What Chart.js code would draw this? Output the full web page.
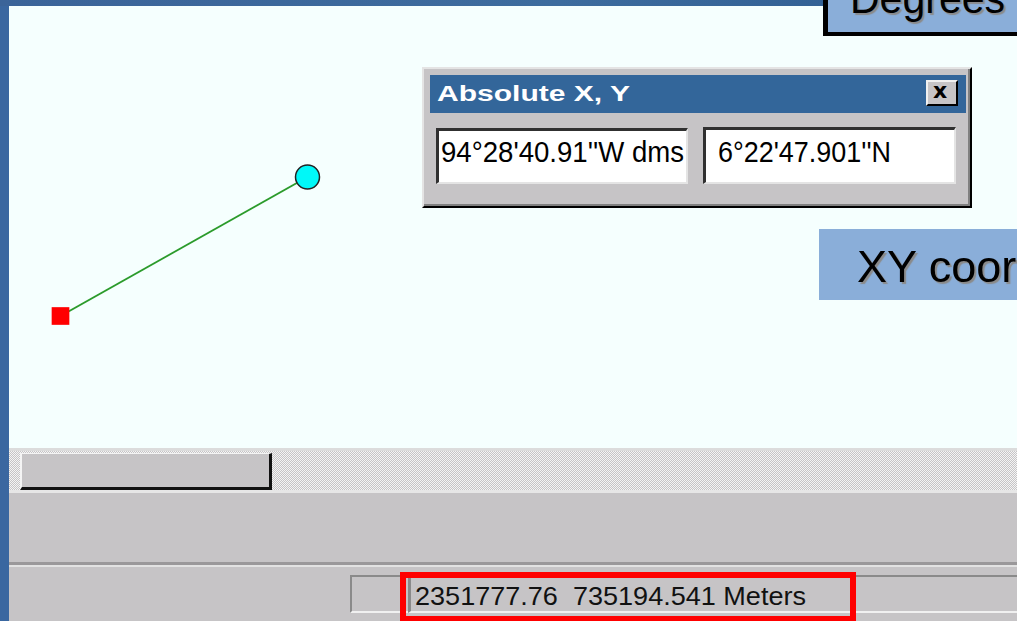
<!DOCTYPE html>
<html><head><meta charset="utf-8">
<script src="https://cdn.jsdelivr.net/npm/chart.js@4.4.1/dist/chart.umd.min.js"></script>
<style>
html,body{margin:0;padding:0;width:1017px;height:621px;overflow:hidden;background:#c6c4c6;font-family:"Liberation Sans",Arial,sans-serif;}
.a{position:absolute;box-sizing:border-box;}
.t{position:absolute;white-space:pre;line-height:1;display:inline-block;transform-origin:0 0;}
</style></head><body>
<div class="a" style="left:0;top:0;width:9px;height:621px;background:#3a67a0;"></div>
<div class="a" style="left:0;top:0;width:1017px;height:6px;background:linear-gradient(90deg,#3b6499,#3d6c9e 55%,#2c5a8f);"></div>
<div class="a" id="map" style="left:9px;top:6px;width:1008px;height:442px;background:#f5fffe;overflow:hidden;">
  <canvas id="c" width="1008" height="442" style="display:block"></canvas>
</div>

<!-- Degrees label box -->
<div class="a" style="left:823px;top:-4px;width:200px;height:40px;background:#8aaed9;border-left:5px solid #000;border-bottom:4px solid #000;overflow:hidden;"></div>
<span class="t fit" data-w="155" style="left:850px;top:-21.6px;font-size:42px;color:#000;text-shadow:2px 2px 1px #8a8a8a;">Degrees</span>

<!-- XY label box -->
<div class="a" style="left:819px;top:229px;width:200px;height:71px;background:#8aaed9;"></div>
<span class="t" style="left:857px;top:243.9px;font-size:45px;color:#000;text-shadow:2px 2px 1px #8a8a8a;">XY coor</span>

<!-- Dialog -->
<div class="a" style="left:422px;top:67px;width:550px;height:141px;background:#c6c4c6;border-top:2px solid #e4e4e4;border-left:2px solid #e4e4e4;border-right:2px solid #000;border-bottom:2px solid #000;box-shadow:inset -2px -2px 0 #808080;"></div>
<div class="a" style="left:430px;top:75px;width:536px;height:38px;background:#33669a;"></div>
<span class="t fit" data-w="193" style="left:437px;top:83.4px;font-size:22px;font-weight:bold;color:#fff;">Absolute X, Y</span>
<div class="a" style="left:926px;top:80px;width:32px;height:26px;background:#c6c4c6;border-top:2px solid #f0f0f0;border-left:2px solid #f0f0f0;border-right:2px solid #000;border-bottom:2px solid #000;"></div>
<span class="t" style="left:933px;top:80px;font-size:22px;font-weight:bold;font-family:'DejaVu Sans',sans-serif;color:#000;">x</span>
<div class="a" style="left:436px;top:128px;width:252px;height:56px;background:#fff;border-top:3px solid #303030;border-left:3px solid #303030;border-right:2px solid #e4e4e4;border-bottom:2px solid #e4e4e4;"></div>
<span class="t fit" data-w="243" style="left:441px;top:137.5px;font-size:29px;color:#000;">94°28'40.91''W dms</span>
<div class="a" style="left:703px;top:127px;width:253px;height:57px;background:#fff;border-top:3px solid #303030;border-left:3px solid #303030;border-right:2px solid #e4e4e4;border-bottom:2px solid #e4e4e4;"></div>
<span class="t fit" data-w="173" style="left:718px;top:137.5px;font-size:29px;color:#000;">6°22'47.901''N</span>

<!-- Scrollbar -->
<div class="a" style="left:9px;top:448px;width:1008px;height:3px;background:#dcdcdc;"></div>
<div class="a" style="left:9px;top:451px;width:1008px;height:39px;background:repeating-conic-gradient(#c6c4c6 0 25%,#f4f4f4 0 50%) 0 0/2px 2px;"></div>
<div class="a" style="left:20px;top:453px;width:252px;height:37px;background:#c6c4c6;border-top:1px solid #f4f4f4;border-left:2px solid #f4f4f4;border-right:3px solid #111;border-bottom:3px solid #111;"></div>
<div class="a" style="left:9px;top:490px;width:1008px;height:3px;background:#e6e6e6;"></div>
<div class="a" style="left:9px;top:562px;width:1008px;height:3px;background:#9a989a;"></div>
<div class="a" style="left:9px;top:565px;width:1008px;height:2px;background:#e2e2e2;"></div>

<!-- Status bar panels -->
<div class="a" style="left:350px;top:575px;width:60px;height:38px;border-top:2px solid #8a8a8a;border-left:2px solid #8a8a8a;border-bottom:2px solid #f0f0f0;"></div>
<div class="a" style="left:408px;top:575px;width:620px;height:38px;border-top:2px solid #8a8a8a;border-left:3px solid #8a8a8a;border-bottom:2px solid #f0f0f0;"></div>
<div class="a" style="left:400px;top:572px;width:456px;height:50px;border:6px solid #ff0000;"></div>
<span class="t fit" data-w="391" style="left:415px;top:583.8px;font-size:25px;color:#111;">2351777.76  735194.541 Meters</span>

<script>
// Map marks: start (red square) and end (cyan circle) of the measured segment, in map units
const pointLabels = ['Start point', 'End point'];
const xValues = [51.5, 298.5];
const yValues = [132, 271];
const xRange = [0, 1008];
const yRange = [0, 442];
const pointShapes = ['rect', 'circle'];

const data = xValues.map((x, i) => ({ x: x, y: yValues[i] }));
new Chart(document.getElementById('c'), {
  type: 'scatter',
  data: { labels: pointLabels, datasets: [{
    label: 'Segment', data: data, showLine: true,
    borderColor: '#2b9b2b', borderWidth: 2,
    pointStyle: pointShapes, pointRadius: [12.5, 12],
    pointBackgroundColor: ['#ff0000', '#00f8f8'],
    pointBorderColor: ['#ff0000', '#222222'],
    pointBorderWidth: [0, 1.5], clip: false
  }]},
  options: {
    responsive: false, animation: false, events: [],
    layout: { padding: 0, autoPadding: false },
    plugins: { legend: { display: false }, tooltip: { enabled: false } },
    scales: {
      x: { type: 'linear', display: false, min: xRange[0], max: xRange[1] },
      y: { type: 'linear', display: false, min: yRange[0], max: yRange[1] }
    }
  }
});

document.querySelectorAll('.fit').forEach(el => {
  const w = el.getBoundingClientRect().width;
  const target = parseFloat(el.dataset.w);
  if (w > 0) el.style.transform = 'scaleX(' + (target / w) + ')';
});
</script>
</body></html>
